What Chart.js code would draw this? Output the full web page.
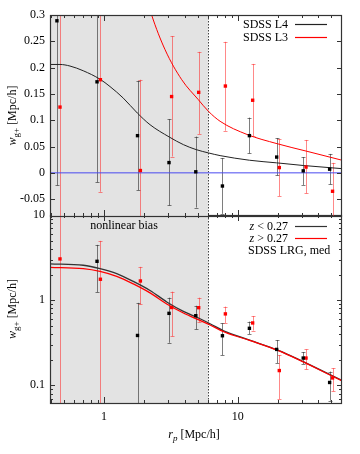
<!DOCTYPE html>
<html lang="en">
<head>
  <meta charset="UTF-8" />
  <title>w_g+ vs r_p</title>
  <script src="https://cdn.jsdelivr.net/npm/chart.js"></script>
  <style>
    body { margin: 0; background: #fff; }
    #wrap { position: relative; width: 360px; height: 454px; }
    #wrap canvas { position: absolute; left: 0; }
    #topChart { top: 0; }
    #botChart { top: 200px; }
  </style>
</head>
<body>
  <div id="wrap">
    <canvas id="botChart" width="360" height="254"></canvas>
    <canvas id="topChart" width="360" height="220"></canvas>
  </div>

  <script>
    // ---- data ----
    // top panel: SDSS L4 / L3
    const rpL4 = [0.445, 0.887, 1.78, 3.06, 4.85, 7.67, 12.2, 19.5, 30.8, 48.5];
    const wL4 = [0.289, 0.173, 0.0707, 0.0195, 0.002, -0.025, 0.0707, 0.030, 0.0038, 0.007];
    const wL4Hi = [0.60, 0.36, 0.175, 0.102, 0.069, 0.028, 0.105, 0.066, 0.030, 0.036];
    const wL4Lo = [-0.024, -0.018, -0.033, -0.062, -0.066, -0.078, 0.037, -0.005, -0.023, -0.022];

    const rpL3 = [0.469, 0.94, 1.87, 3.2, 5.1, 8.07, 12.9, 20.4, 32.3, 51];
    const wL3 = [0.125, 0.177, 0.0044, 0.145, 0.153, 0.165, 0.138, 0.010, 0.011, -0.035];
    const wL3Hi = [0.50, 0.39, 0.177, 0.26, 0.23, 0.249, 0.207, 0.064, 0.0625, 0.019];
    const wL3Lo = [-0.25, -0.036, -0.168, 0.031, 0.074, 0.080, 0.070, -0.044, -0.039, -0.09];

    // model curves, top panel
    const curveL4X = [0.395, 0.469, 0.557, 0.70, 0.933, 1.109, 1.394, 1.774, 2.208, 3.08, 3.92, 4.88, 6.03, 7.37, 12.2, 19.5, 30.8, 60];
    const curveL4Y = [0.206, 0.206, 0.203, 0.194, 0.178, 0.164, 0.142, 0.1137, 0.0915, 0.068, 0.0536, 0.0442, 0.0379, 0.0328, 0.024, 0.019, 0.014, 0.008];
    const curveL3X = [2.1, 2.27, 2.86, 3.81, 5.07, 6.03, 7.37, 11.7, 19.6, 32.8, 60];
    const curveL3Y = [0.33, 0.30, 0.234, 0.177, 0.139, 0.117, 0.098, 0.073, 0.0555, 0.041, 0.024];

    // bottom panel: SDSS LRG, med
    const rpLow = [0.887, 1.78, 3.06, 4.85, 7.67, 12.2, 19.5, 30.8, 48.5];
    const wLow = [2.86, 0.385, 0.70, 0.657, 0.382, 0.467, 0.264, 0.209, 0.108];
    const wLowHi = [4.46, 0.93, 1.07, 0.86, 0.536, 0.56, 0.34, 0.246, 0.145];
    const wLowLo = [1.24, 0.01, 0.316, 0.454, 0.226, 0.40, 0.182, 0.178, 0.066];

    const rpHigh = [0.469, 0.94, 1.87, 3.2, 5.1, 8.07, 12.9, 20.4, 32.3, 51];
    const wHigh = [3.05, 1.76, 1.68, 0.82, 0.816, 0.69, 0.54, 0.149, 0.209, 0.122];
    const wHighHi = [20, 4.97, 2.46, 1.26, 1.07, 0.84, 0.65, 0.227, 0.264, 0.159];
    const wHighLo = [0.001, 0.001, 0.89, 0.375, 0.55, 0.54, 0.44, 0.069, 0.154, 0.085];

    const curveLowX = [0.395, 0.70, 0.933, 1.245, 1.656, 2.208, 2.944, 3.918, 5.22, 6.2, 8, 12.4, 20.1, 60];
    const curveLowY = [2.67, 2.57, 2.35, 2.05, 1.66, 1.30, 0.953, 0.738, 0.605, 0.529, 0.43, 0.337, 0.257, 0.114];
    const curveHighX = [0.395, 0.70, 0.933, 1.245, 1.656, 2.208, 2.944, 3.918, 5.22, 6.2, 8, 12.4, 20.1, 60];
    const curveHighY = [2.43, 2.35, 2.18, 1.905, 1.55, 1.216, 0.902, 0.707, 0.578, 0.511, 0.42, 0.335, 0.255, 0.113];

    // axes
    const xRange = [0.395, 60];
    const yTopRange = [-0.082, 0.3];
    const yBotRange = [0.062, 10];
    const shadeEdge = 6;
    const xMajor = [1, 10];
    const xMinor = [0.4, 0.5, 0.6, 0.7, 0.8, 0.9, 2, 3, 4, 5, 6, 7, 8, 9, 20, 30, 40, 50];
    const yTopTicks = [-0.05, 0, 0.05, 0.1, 0.15, 0.2, 0.25, 0.3];
    const yBotMajor = [0.1, 1, 10];
    const yBotMinor = [0.07, 0.08, 0.09, 0.2, 0.3, 0.4, 0.5, 0.6, 0.7, 0.8, 0.9, 2, 3, 4, 5, 6, 7, 8, 9];

    const FONT = "'Liberation Serif', 'DejaVu Serif', serif";
    const pts = (xs, ys) => xs.map((x, i) => ({ x: x, y: ys[i] }));

    function pointSet(label, xs, ys, lo, hi, color, barColor) {
      return {
        label, data: pts(xs, ys), errLo: lo, errHi: hi, barColor,
        showLine: false, pointStyle: 'rect', pointRadius: 2.4, pointBorderWidth: 0,
        backgroundColor: color, borderColor: color, order: 0
      };
    }
    function curveSet(label, xs, ys, color, width, order) {
      return {
        label, data: pts(xs, ys), borderColor: color, borderWidth: width, showLine: true,
        pointRadius: 0, cubicInterpolationMode: 'monotone', fill: false, order
      };
    }

    // shading, dotted boundary and error bars under the points
    const backdrop = {
      id: 'backdrop',
      beforeDatasetsDraw(chart) {
        const { ctx, chartArea: a, scales: { x, y } } = chart;
        ctx.save();
        ctx.beginPath();
        ctx.rect(a.left, a.top, a.right - a.left, a.bottom - a.top);
        ctx.clip();
        const xe = x.getPixelForValue(shadeEdge);
        ctx.fillStyle = '#e3e3e3';
        ctx.fillRect(a.left, a.top, xe - a.left, a.bottom - a.top);
        ctx.strokeStyle = '#444';
        ctx.lineWidth = 1;
        ctx.setLineDash([1.5, 1.5]);
        ctx.beginPath();
        ctx.moveTo(Math.round(xe) + 0.5, a.top);
        ctx.lineTo(Math.round(xe) + 0.5, a.bottom);
        ctx.stroke();
        ctx.setLineDash([]);
        chart.data.datasets.forEach(ds => {
          if (!ds.errLo) return;
          ctx.strokeStyle = ds.barColor;
          ctx.lineWidth = 1;
          ds.data.forEach((p, i) => {
            const px = Math.round(x.getPixelForValue(p.x)) + 0.5;
            const y1 = y.getPixelForValue(ds.errHi[i]);
            const y2 = y.getPixelForValue(ds.errLo[i]);
            ctx.beginPath();
            ctx.moveTo(px, y1); ctx.lineTo(px, y2);
            ctx.moveTo(px - 2, Math.round(y1) + 0.5); ctx.lineTo(px + 2, Math.round(y1) + 0.5);
            ctx.moveTo(px - 2, Math.round(y2) + 0.5); ctx.lineTo(px + 2, Math.round(y2) + 0.5);
            ctx.stroke();
          });
        });
        ctx.restore();
      }
    };

    // border with inward ticks on all four sides
    function frame(yMajor, yMinor) {
      return {
        id: 'frame',
        afterDraw(chart) {
          const { ctx, chartArea: a, scales: { x, y } } = chart;
          ctx.save();
          ctx.strokeStyle = '#333';
          ctx.lineWidth = 1;
          ctx.beginPath();
          const tx = (v, len) => {
            const p = Math.round(x.getPixelForValue(v)) + 0.5;
            ctx.moveTo(p, a.bottom); ctx.lineTo(p, a.bottom - len);
            ctx.moveTo(p, a.top); ctx.lineTo(p, a.top + len);
          };
          const ty = (v, len) => {
            const p = Math.round(y.getPixelForValue(v)) + 0.5;
            ctx.moveTo(a.left, p); ctx.lineTo(a.left + len, p);
            ctx.moveTo(a.right, p); ctx.lineTo(a.right - len, p);
          };
          xMajor.forEach(v => tx(v, 6));
          xMinor.forEach(v => tx(v, 3));
          yMajor.forEach(v => ty(v, 5));
          yMinor.forEach(v => ty(v, 3));
          ctx.stroke();
          ctx.lineWidth = 1.2;
          ctx.strokeRect(a.left + 0.5, a.top + 0.5, a.right - a.left - 1, a.bottom - a.top);
          ctx.restore();
        }
      };
    }

    // y title "w_g+ [Mpc/h]", rotated
    function yTitle(chart, cx) {
      const { ctx, chartArea: a } = chart;
      const cy = (a.top + a.bottom) / 2;
      ctx.save();
      ctx.fillStyle = '#000';
      ctx.textBaseline = 'alphabetic';
      ctx.font = 'italic 12px ' + FONT;
      const w1 = ctx.measureText('w').width;
      ctx.font = '9px ' + FONT;
      const w2 = ctx.measureText('g+').width;
      ctx.font = '12px ' + FONT;
      const w3 = ctx.measureText(' [Mpc/h]').width;
      ctx.translate(cx, cy);
      ctx.rotate(-Math.PI / 2);
      let s = -(w1 + w2 + w3) / 2;
      ctx.font = 'italic 12px ' + FONT; ctx.fillText('w', s, 0); s += w1;
      ctx.font = '9px ' + FONT; ctx.fillText('g+', s, 3); s += w2;
      ctx.font = '12px ' + FONT; ctx.fillText(' [Mpc/h]', s, 0);
      ctx.restore();
    }

    function legendLine(ctx, parts, right, y, color) {
      let w = 0;
      parts.forEach(p => { ctx.font = p[1] + '12px ' + FONT; w += ctx.measureText(p[0]).width; });
      let s = right - w;
      parts.forEach(p => { ctx.font = p[1] + '12px ' + FONT; ctx.fillText(p[0], s, y); s += ctx.measureText(p[0]).width; });
      if (color) {
        ctx.strokeStyle = color;
        ctx.lineWidth = 1.2;
        ctx.beginPath();
        ctx.moveTo(295, Math.round(y - 4) + 0.5);
        ctx.lineTo(327, Math.round(y - 4) + 0.5);
        ctx.stroke();
      }
    }

    const topDecor = {
      id: 'topDecor',
      afterDraw(chart) {
        const ctx = chart.ctx;
        yTitle(chart, 16);
        ctx.save();
        ctx.fillStyle = '#000';
        ctx.textBaseline = 'alphabetic';
        legendLine(ctx, [['SDSS L4', '']], 288, 28, '#222');
        legendLine(ctx, [['SDSS L3', '']], 288, 41, '#f00');
        ctx.restore();
      }
    };

    const botDecor = {
      id: 'botDecor',
      afterDraw(chart) {
        const ctx = chart.ctx;
        yTitle(chart, 16);
        ctx.save();
        ctx.fillStyle = '#000';
        ctx.textBaseline = 'alphabetic';
        // canvas sits 200px down the page
        legendLine(ctx, [['z', 'italic '], [' < 0.27', '']], 288, 30, '#333');
        legendLine(ctx, [['z', 'italic '], [' > 0.27', '']], 288, 42, '#f00');
        ctx.font = '12px ' + FONT;
        ctx.fillText('SDSS LRG, med', 248, 54);
        ctx.textAlign = 'center';
        ctx.fillText('nonlinear bias', 124, 29);
        // x title "r_p [Mpc/h]"
        ctx.textAlign = 'left';
        ctx.font = 'italic 12px ' + FONT;
        const w1 = ctx.measureText('r').width;
        ctx.font = 'italic 9px ' + FONT;
        const w2 = ctx.measureText('p').width;
        ctx.font = '12px ' + FONT;
        const w3 = ctx.measureText(' [Mpc/h]').width;
        let s = 194 - (w1 + w2 + w3) / 2;
        const base = 238;
        ctx.font = 'italic 12px ' + FONT; ctx.fillText('r', s, base); s += w1;
        ctx.font = 'italic 9px ' + FONT; ctx.fillText('p', s, base + 3); s += w2;
        ctx.font = '12px ' + FONT; ctx.fillText(' [Mpc/h]', s, base);
        ctx.restore();
      }
    };

    const tickFont = { family: FONT, size: 12 };
    const hiddenGrid = { display: false, drawTicks: false };
    // fixed axis sizes so both panels line up
    const yFit = s => { s.width = 50; s.paddingTop = 0; s.paddingBottom = 0; };

    new Chart(document.getElementById('topChart'), {
      type: 'scatter',
      data: {
        datasets: [
          pointSet('SDSS L4', rpL4, wL4, wL4Lo, wL4Hi, '#000', 'rgba(40,40,40,0.6)'),
          pointSet('SDSS L3', rpL3, wL3, wL3Lo, wL3Hi, '#f00', 'rgba(255,40,40,0.55)'),
          curveSet('L4 model', curveL4X, curveL4Y, '#222', 1, 1),
          curveSet('L3 model', curveL3X, curveL3Y, '#f00', 1, 1),
          curveSet('zero', xRange, [0, 0], '#4a4af0', 1, 2)
        ]
      },
      options: {
        responsive: false,
        animation: false,
        layout: { padding: { top: 15, right: 18, left: 0, bottom: 0 } },
        plugins: { legend: { display: false }, tooltip: { enabled: false } },
        scales: {
          x: {
            type: 'logarithmic', min: xRange[0], max: xRange[1],
            ticks: { display: false }, grid: hiddenGrid, border: { display: false },
            afterFit(s) { s.height = 0; s.paddingLeft = 0; s.paddingRight = 0; }
          },
          y: {
            type: 'linear', min: yTopRange[0], max: yTopRange[1],
            afterBuildTicks(s) { s.ticks = yTopTicks.map(v => ({ value: v })); },
            ticks: { font: tickFont, color: '#000', padding: 5, callback: v => String(+v.toFixed(2)) },
            grid: hiddenGrid, border: { display: false },
            afterFit: yFit
          }
        }
      },
      plugins: [backdrop, frame(yTopTicks, []), topDecor]
    });

    new Chart(document.getElementById('botChart'), {
      type: 'scatter',
      data: {
        datasets: [
          pointSet('z < 0.27', rpLow, wLow, wLowLo, wLowHi, '#000', 'rgba(40,40,40,0.6)'),
          pointSet('z > 0.27', rpHigh, wHigh, wHighLo, wHighHi, '#f00', 'rgba(255,40,40,0.55)'),
          curveSet('z > 0.27 model', curveHighX, curveHighY, '#f00', 1.3, 1),
          curveSet('z < 0.27 model', curveLowX, curveLowY, '#333', 1.3, 2)
        ]
      },
      options: {
        responsive: false,
        animation: false,
        layout: { padding: { top: 15, right: 18, left: 0, bottom: 0 } },
        plugins: { legend: { display: false }, tooltip: { enabled: false } },
        scales: {
          x: {
            type: 'logarithmic', min: xRange[0], max: xRange[1],
            afterBuildTicks(s) { s.ticks = xMajor.map(v => ({ value: v })); },
            ticks: { font: tickFont, color: '#000', padding: 7, maxRotation: 0, callback: v => String(v) },
            grid: hiddenGrid, border: { display: false },
            afterFit(s) { s.height = 51; s.paddingLeft = 0; s.paddingRight = 0; }
          },
          y: {
            type: 'logarithmic', min: yBotRange[0], max: yBotRange[1],
            afterBuildTicks(s) { s.ticks = yBotMajor.map(v => ({ value: v })); },
            ticks: { font: tickFont, color: '#000', padding: 5, callback: v => String(v) },
            grid: hiddenGrid, border: { display: false },
            afterFit: yFit
          }
        }
      },
      plugins: [backdrop, frame(yBotMajor, yBotMinor), botDecor]
    });
  </script>
</body>
</html>
